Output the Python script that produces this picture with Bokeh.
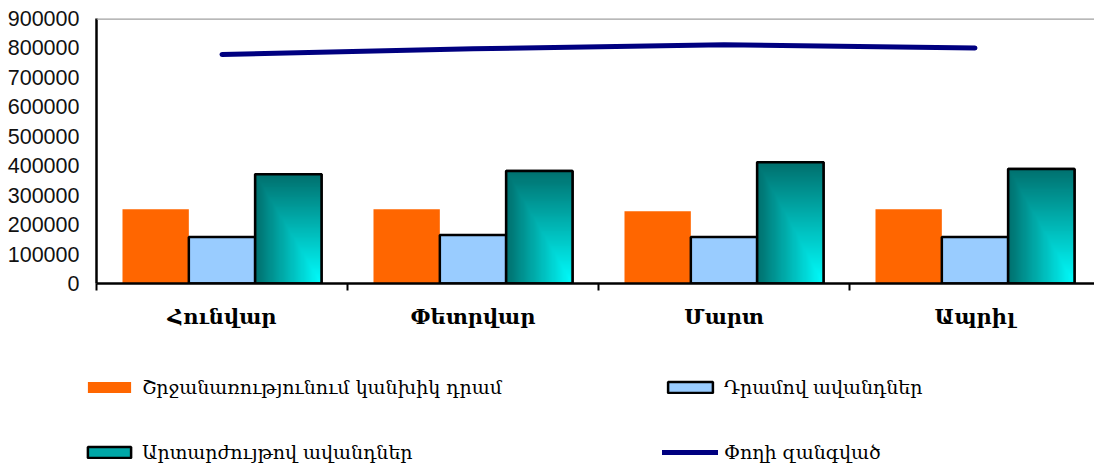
import numpy as np
from bokeh.plotting import figure
from bokeh.layouts import column, row
from bokeh.models import (Range1d, LinearAxis, FixedTicker, NumeralTickFormatter,
                          Span, Legend, LegendItem)
from bokeh.embed import file_html
from bokeh.resources import INLINE

# ---- data ----
months = ["Հունվար", "Փետրվար", "Մարտ", "Ապրիլ"]
cash_in_circulation = [252000, 252000, 245000, 252000]
dram_deposits = [158000, 165000, 158000, 158000]
fx_deposits = [371000, 382000, 412000, 389000]
money_supply = [778000, 797000, 811000, 800000]
y_ticks = [0, 100000, 200000, 300000, 400000, 500000, 600000, 700000, 800000, 900000]
series_names = ["Շրջանառությունում կանխիկ դրամ", "Դրամով ավանդներ",
                "Արտարժույթով ավանդներ", "Փողի զանգված"]

CASH = dict(fill_color="#FF6600", line_color=None)
DRAM = dict(fill_color="#99CCFF", line_color="black", line_width=2.5)
FX = dict(fill_color="#00A8A8", line_color="black", line_width=2.5)
LINE = dict(line_width=5, line_color="#000080", line_cap="round")

n = len(months)
centers = [i + 0.5 for i in range(n)]
bw = 0.2643
x_cash = [c - bw for c in centers]
x_dram = centers
x_fx = [c + bw for c in centers]

W = 1094
p = figure(width=W, height=340, output_backend="svg", toolbar_location=None,
           x_range=Range1d(0, (W - 96) / 251), y_range=Range1d(0, 900000),
           x_axis_location=None, y_axis_location=None,
           min_border_left=96, min_border_right=0, min_border_top=18, min_border_bottom=57)
p.outline_line_color = None
p.xgrid.visible = False
p.ygrid.visible = False
p.background_fill_color = "white"
p.border_fill_color = "white"

# top frame line
p.add_layout(Span(location=900000, dimension="width", line_color="#A0A0A0", line_width=2.5))

p.vbar(x=x_cash, top=cash_in_circulation, width=bw, bottom=0, **CASH)
p.vbar(x=x_dram, top=dram_deposits, width=bw, bottom=0, **DRAM)
p.vbar(x=x_fx, top=fx_deposits, width=bw, bottom=0, **FX)

# gradient fill for the foreign-currency deposit bars
nx, ny = 60, 120
gx = np.linspace(0, 1, nx)
gyd = np.linspace(1, 0, ny)  # row 0 is the bottom of the bar
GX, GY = np.meshgrid(gx, gyd)
t = np.minimum(GX, GY)
dark = np.array([0, 112, 110], dtype=float)
light = np.array([0, 255, 255], dtype=float)
img = np.empty((ny, nx), dtype=np.uint32)
view = img.view(dtype=np.uint8).reshape((ny, nx, 4))
for k in range(3):
    view[:, :, k] = (dark[k] + (light[k] - dark[k]) * t).astype(np.uint8)
view[:, :, 3] = 255
p.image_rgba(image=[img] * n, x=[c - bw / 2 for c in x_fx], y=[0] * n,
             dw=[bw] * n, dh=fx_deposits)
p.vbar(x=x_fx, top=fx_deposits, width=bw, bottom=0,
       fill_color=None, line_color="black", line_width=2.5)

p.line(centers, money_supply, **LINE)

# axes
yaxis = LinearAxis(ticker=FixedTicker(ticks=y_ticks),
                   formatter=NumeralTickFormatter(format="0"))
yaxis.axis_line_color = "black"
yaxis.axis_line_width = 2.5
yaxis.major_tick_line_color = None
yaxis.minor_tick_line_color = None
yaxis.major_label_standoff = 11
yaxis.major_label_text_font = "Liberation Sans"
yaxis.major_label_text_font_size = "21.5px"
yaxis.major_label_text_color = "#111111"
p.add_layout(yaxis, "left")

xaxis = LinearAxis(ticker=FixedTicker(ticks=centers, minor_ticks=list(range(n + 1))))
xaxis.axis_line_color = "black"
xaxis.axis_line_width = 2.5
xaxis.major_tick_line_color = None
xaxis.minor_tick_line_color = "black"
xaxis.minor_tick_line_width = 2
xaxis.minor_tick_in = 0
xaxis.minor_tick_out = 7
xaxis.major_label_overrides = {c: m for c, m in zip(centers, months)}
xaxis.major_label_standoff = 13
xaxis.major_label_text_font = "DejaVu Serif"
xaxis.major_label_text_font_style = "bold"
xaxis.major_label_text_font_size = "21px"
xaxis.major_label_text_color = "black"
p.add_layout(xaxis, "below")

# ---- legend panel ----
LH = 130
q = figure(width=W, height=LH, output_backend="svg", toolbar_location=None,
           x_range=Range1d(0, 1), y_range=Range1d(0, 1),
           x_axis_location=None, y_axis_location=None,
           min_border_left=0, min_border_right=0, min_border_top=0, min_border_bottom=0)
q.outline_line_color = None
q.xgrid.visible = False
q.ygrid.visible = False
q.border_fill_color = "white"
# key renderers with non-finite data: nothing is drawn, only their legend swatches show
nan = float("nan")
k_cash = q.vbar(x=[nan], bottom=[nan], top=[nan], width=0.1, **CASH)
k_dram = q.vbar(x=[nan], bottom=[nan], top=[nan], width=0.1, **DRAM)
k_fx = q.vbar(x=[nan], bottom=[nan], top=[nan], width=0.1, **FX)
k_line = q.line(x=[nan, nan], y=[nan, nan], **LINE)

def make_legend(items, loc, gw):
    lg = Legend(items=items, location=loc, orientation="vertical")
    lg.glyph_width = gw
    lg.glyph_height = 14
    lg.label_height = 24
    lg.spacing = 41
    lg.padding = 0
    lg.margin = 0
    lg.label_standoff = 6
    lg.border_line_color = None
    lg.background_fill_alpha = 0
    lg.label_text_font = "DejaVu Serif"
    lg.label_text_font_size = "19px"
    lg.label_text_color = "black"
    return lg

leg1 = make_legend([LegendItem(label=series_names[0], renderers=[k_cash]),
                    LegendItem(label=series_names[2], renderers=[k_fx])], (82, 6), 54)
leg2 = make_legend([LegendItem(label=series_names[1], renderers=[k_dram]),
                    LegendItem(label=series_names[3], renderers=[k_line])], (662, 6), 56)
q.add_layout(leg1, "center")
q.add_layout(leg2, "center")

layout = column(p, row(q), spacing=0)
open("out.html", "w").write(file_html(layout, INLINE))
